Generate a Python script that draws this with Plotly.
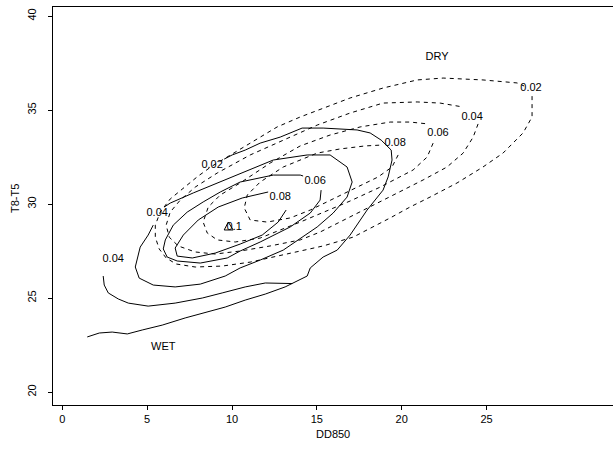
import plotly.graph_objects as go

# ---- WET (solid) contour lines: (x = DD850, y = T8-T5) ----
wet_02_x = [1.47, 2.18, 2.94, 3.83, 4.71, 5.89, 7.24, 8.60, 9.60, 10.78, 11.96, 13.13, 14.13, 14.43, 14.61,
            15.37, 16.20, 16.96, 17.96, 18.90, 19.20, 19.43, 19.38, 18.79, 18.14, 17.37, 15.37, 14.13, 12.84,
            11.66, 10.78, 10.01, 9.54]
wet_02_y = [22.93, 23.14, 23.19, 23.09, 23.30, 23.56, 23.94, 24.26, 24.52, 24.89, 25.21, 25.59, 26.01, 26.17, 26.60,
            27.18, 27.55, 28.35, 29.68, 30.74, 31.44, 32.34, 32.87, 33.40, 33.78, 33.94, 34.04, 34.04, 33.56,
            33.24, 32.87, 32.61, 32.39]
wet_04b_x = [2.41, 2.47, 2.71, 3.30, 3.89, 5.06, 6.65, 8.25, 9.42, 10.78, 11.96, 13.55]
wet_04b_y = [26.17, 25.69, 25.27, 24.95, 24.73, 24.57, 24.73, 25.00, 25.27, 25.59, 25.80, 25.77]
wet_04_x = [6.01, 6.36, 7.72, 9.13, 10.48, 12.43, 14.43, 15.78, 16.78, 17.08, 16.78, 15.96, 15.02, 13.02,
            11.66, 10.48, 9.60, 8.13, 6.65, 5.36, 4.53, 4.30, 4.59, 5.06, 5.36]
wet_04_y = [29.84, 30.05, 30.59, 31.12, 31.65, 32.34, 32.61, 32.61, 31.97, 31.17, 30.37, 29.52, 28.78, 27.55,
            27.02, 26.60, 26.17, 25.74, 25.59, 25.69, 26.06, 26.65, 27.71, 28.35, 28.88]
wet_06_x = [15.25, 15.19, 14.61, 13.43, 11.66, 10.48, 9.72, 8.13, 6.77, 6.18, 5.95, 6.07, 6.54, 7.36, 8.30,
            9.31, 10.48, 12.43, 14.02, 14.19]
wet_06_y = [30.74, 30.21, 29.52, 28.78, 27.98, 27.50, 27.13, 26.86, 26.97, 27.18, 27.61, 28.09, 28.88, 29.57, 30.11,
            30.64, 31.17, 31.54, 31.54, 31.49]
wet_08_x = [12.13, 10.60, 9.19, 8.01, 7.13, 6.65, 6.77, 7.66, 9.01, 10.48, 11.78, 12.72, 13.19]
wet_08_y = [30.64, 30.32, 29.84, 29.15, 28.35, 27.66, 27.23, 27.13, 27.39, 27.87, 28.35, 29.04, 29.68]
wet_10_x = [9.78, 9.54, 10.07, 9.78]
wet_10_y = [29.04, 28.62, 28.62, 29.04]

# ---- DRY (dashed) contour lines ----
dry_02_x = [27.68, 27.68, 27.15, 25.97, 24.79, 23.26, 21.67, 20.49, 19.32, 17.14, 15.37, 14.02, 12.25, 11.07,
            9.42, 7.83, 6.71, 6.12, 5.71, 5.48, 5.48, 5.77, 6.36, 7.18, 8.01, 8.83, 9.42, 10.07, 11.07, 12.66,
            14.02, 16.96, 18.90, 20.91, 22.44, 24.79, 26.80, 27.21]
dry_02_y = [35.74, 34.63, 33.78, 32.71, 31.97, 31.12, 30.37, 29.84, 29.26, 28.24, 27.77, 27.50, 27.18, 26.91,
            26.70, 26.65, 26.81, 27.13, 27.61, 28.24, 28.88, 29.57, 30.27, 30.90, 31.49, 32.02, 32.34, 32.71, 33.24, 34.10,
            34.63, 35.64, 36.17, 36.60, 36.70, 36.60, 36.44, 36.28]
dry_04_x = [24.50, 24.21, 23.62, 22.67, 21.26, 20.08, 18.73, 16.96, 15.19, 14.02, 12.25, 10.48, 9.01, 7.83,
            6.83, 6.30, 6.12, 6.36, 6.95, 7.83, 9.13, 11.07, 13.02, 15.02, 16.96, 18.90, 20.91, 22.26, 23.62]
dry_04_y = [34.26, 33.56, 32.71, 31.97, 31.28, 30.74, 30.11, 29.31, 28.51, 28.09, 27.77, 27.50, 27.34, 27.45,
            27.77, 28.24, 28.88, 29.57, 30.21, 30.90, 31.65, 32.61, 33.40, 34.20, 34.84, 35.37, 35.43, 35.37, 35.16]
dry_06_x = [21.85, 21.50, 20.67, 19.73, 18.73, 16.96, 15.19, 14.02, 12.84, 11.66, 10.19, 9.13, 8.54, 8.30,
            8.60, 9.31, 10.48, 12.25, 14.02, 15.78, 17.55, 19.32, 20.49, 21.56]
dry_06_y = [33.24, 32.50, 31.81, 31.38, 30.90, 30.16, 29.47, 29.04, 28.62, 28.19, 27.98, 28.09, 28.46, 29.04,
            29.84, 30.48, 31.12, 32.18, 33.09, 33.67, 34.10, 34.36, 34.36, 34.26]
dry_08_x = [19.79, 19.43, 18.61, 17.37, 16.20, 14.61, 13.43, 12.07, 11.07, 10.72, 10.90, 11.66, 13.02, 14.02,
            15.02, 16.37, 17.84, 18.90]
dry_08_y = [32.61, 31.97, 31.44, 30.90, 30.37, 29.68, 29.26, 29.04, 29.15, 29.79, 30.48, 31.17, 31.97, 32.34,
            32.71, 32.93, 33.09, 33.14]

# ---- contour labels ----
wet_label_text = ["0.02", "0.04", "0.04", "0.06", "0.08", "0.1"]
wet_label_x = [8.83, 5.59, 3.00, 14.90, 12.84, 10.13]
wet_label_y = [32.07, 29.52, 27.07, 31.22, 30.37, 28.78]
dry_label_text = ["0.02", "0.04", "0.06", "0.08"]
dry_label_x = [27.62, 24.15, 22.14, 19.61]
dry_label_y = [36.17, 34.63, 33.78, 33.24]
group_text = ["DRY", "WET"]
group_x = [22.08, 5.95]
group_y = [37.82, 22.39]

x_ticks = [0, 5, 10, 15, 20, 25]
y_ticks = [20, 25, 30, 35, 40]

FONT = "Liberation Sans, Arial, Helvetica, sans-serif"

fig = go.Figure()
solid = dict(color="black", width=1)
dashed = dict(color="black", width=1, dash="4px,4px")
for xs, ys in [(wet_02_x, wet_02_y), (wet_04b_x, wet_04b_y), (wet_04_x, wet_04_y),
               (wet_06_x, wet_06_y), (wet_08_x, wet_08_y), (wet_10_x, wet_10_y)]:
    fig.add_trace(go.Scatter(x=xs, y=ys, mode="lines", line=solid, hoverinfo="skip", showlegend=False))
for xs, ys in [(dry_02_x, dry_02_y), (dry_04_x, dry_04_y), (dry_06_x, dry_06_y), (dry_08_x, dry_08_y)]:
    fig.add_trace(go.Scatter(x=xs, y=ys, mode="lines", line=dashed, hoverinfo="skip", showlegend=False))

fig.add_trace(go.Scatter(x=wet_label_x, y=wet_label_y, text=wet_label_text, mode="text",
                         textfont=dict(family=FONT, size=11, color="black"), showlegend=False))
fig.add_trace(go.Scatter(x=dry_label_x, y=dry_label_y, text=dry_label_text, mode="text",
                         textfont=dict(family=FONT, size=11, color="black"), showlegend=False))
fig.add_trace(go.Scatter(x=group_x, y=group_y, text=group_text, mode="text",
                         textfont=dict(family=FONT, size=11, color="black"), showlegend=False))

fig.update_layout(
    width=613, height=453,
    margin=dict(l=53, r=0, t=7, b=48),
    paper_bgcolor="white", plot_bgcolor="white",
    font=dict(family=FONT, size=11, color="black"),
    xaxis=dict(range=[-0.548, 32.45], tickvals=x_ticks, ticks="outside", ticklen=4, tickwidth=1,
               tickcolor="black", showline=True, linecolor="black", linewidth=1, mirror=True,
               showgrid=False, zeroline=False, tickfont=dict(size=11)),
    yaxis=dict(range=[19.31, 40.48], tickvals=y_ticks, ticks="outside", ticklen=4, tickwidth=1,
               tickcolor="black", showline=True, linecolor="black", linewidth=1, mirror=False,
               showgrid=False, zeroline=False, tickangle=-90, tickfont=dict(size=11),
               ticklabelstandoff=8),
    annotations=[
        dict(text="DD850", xref="paper", yref="paper", x=0.5, y=-0.0729, showarrow=False,
             xanchor="center", yanchor="middle", font=dict(family=FONT, size=11)),
        dict(text="T8-T5", xref="paper", yref="paper", x=-0.0679, y=0.52, showarrow=False,
             xanchor="center", yanchor="middle", textangle=-90, font=dict(family=FONT, size=11)),
    ],
)

fig.write_html("out.html", config={"displayModeBar": False},
               post_script="document.body.style.margin='0';document.body.style.overflow='hidden';")
